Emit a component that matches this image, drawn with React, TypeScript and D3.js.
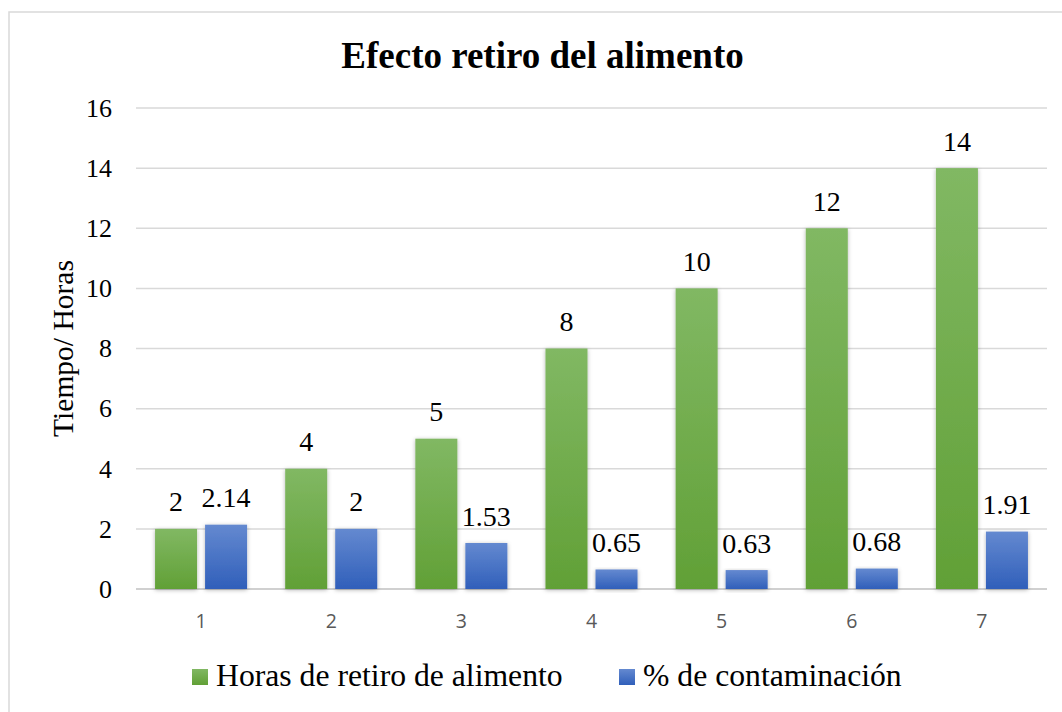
import * as d3 from 'd3'

// chart data
const categories = ['1', '2', '3', '4', '5', '6', '7']
const horasRetiro = [2, 4, 5, 8, 10, 12, 14]
const contaminacion = [2.14, 2, 1.53, 0.65, 0.63, 0.68, 1.91]
const yTicks = [0, 2, 4, 6, 8, 10, 12, 14, 16]
const seriesNames = ['Horas de retiro de alimento', '% de contaminación']

const serif = 'Liberation Serif'

export default function App () {
    const width = 1062
    const height = 712
    const plot = { left: 136, right: 1047, top: 108, bottom: 589 }

    const x0 = d3.scaleBand().domain(categories).range([plot.left, plot.right]).padding(0)
    const x1 = d3.scaleBand().domain(['h', 'c']).range([0, x0.bandwidth()])
        .paddingInner(0.16).paddingOuter(0.381)
    const y = d3.scaleLinear().domain([0, 16]).range([plot.bottom, plot.top])

    const rows = categories.map((c, i) => ({ c, h: horasRetiro[i], p: contaminacion[i] }))

    return (
        <svg width={width} height={height}
            style={{ position: 'absolute', left: 0, top: 0, background: '#fff' }}>
            <defs>
                <linearGradient id='gGreen' x1='0' y1='0' x2='0' y2='1'>
                    <stop offset='0' stopColor='#81b863' />
                    <stop offset='1' stopColor='#61a036' />
                </linearGradient>
                <linearGradient id='gBlue' x1='0' y1='0' x2='0' y2='1'>
                    <stop offset='0' stopColor='#6489d0' />
                    <stop offset='1' stopColor='#305fba' />
                </linearGradient>
                <filter id='shadow' x='-30%' y='-10%' width='160%' height='130%'>
                    <feDropShadow dx='0' dy='1' stdDeviation='2.2' floodColor='#000' floodOpacity='0.3' />
                </filter>
            </defs>

            {/* chart border (only left/top visible in crop) */}
            <rect x={9} y={12} width={1200} height={900} fill='none' stroke='#d9d9d9' strokeWidth={1.5} />

            <text x={542.5} y={68} textAnchor='middle' fontFamily={serif} fontWeight='bold'
                fontSize={37} fill='#000'>Efecto retiro del alimento</text>

            {/* gridlines + y ticks */}
            {yTicks.map(t => (
                <g key={t}>
                    <line x1={plot.left} x2={plot.right} y1={y(t)} y2={y(t)}
                        stroke={t === 0 ? '#d0d0d0' : '#d9d9d9'} strokeWidth={t === 0 ? 2 : 1.5} />
                    <text x={112} y={y(t)} dy='0.34em' textAnchor='end' fontFamily={serif}
                        fontSize={26} fill='#000'>{t}</text>
                </g>
            ))}

            <text transform={`translate(73,${(plot.top + plot.bottom) / 2}) rotate(-90)`}
                textAnchor='middle' fontFamily={serif} fontSize={29.5} fill='#000'>Tiempo/ Horas</text>

            {/* bars */}
            {rows.map(d => {
                const gx = x0(d.c)
                return (
                    <g key={d.c} transform={`translate(${gx},0)`}>
                        <rect x={x1('h')} y={y(d.h)} width={x1.bandwidth()} height={y(0) - y(d.h)}
                            fill='url(#gGreen)' filter='url(#shadow)' />
                        <rect x={x1('c')} y={y(d.p)} width={x1.bandwidth()} height={y(0) - y(d.p)}
                            fill='url(#gBlue)' filter='url(#shadow)' />
                        <text x={x1('h') + x1.bandwidth() / 2} y={y(d.h) - 17.5} textAnchor='middle'
                            fontFamily={serif} fontSize={28} fill='#000'>{d.h}</text>
                        <text x={x1('c') + x1.bandwidth() / 2} y={y(d.p) - 17.5} textAnchor='middle'
                            fontFamily={serif} fontSize={28} fill='#000'>{d.p}</text>
                        <text x={x0.bandwidth() / 2} y={628} textAnchor='middle'
                            fontFamily='Open Sans' fontSize={19.5} fill='#595959'>{d.c}</text>
                    </g>
                )
            })}

            {/* legend */}
            <rect x={192} y={669} width={16} height={16} fill='url(#gGreen)' />
            <text x={216} y={686} fontFamily={serif} fontSize={31.7} fill='#000'>{seriesNames[0]}</text>
            <rect x={619} y={669} width={16} height={16} fill='url(#gBlue)' />
            <text x={643} y={686} fontFamily={serif} fontSize={31.7} fill='#000'>{seriesNames[1]}</text>
        </svg>
    )
}
